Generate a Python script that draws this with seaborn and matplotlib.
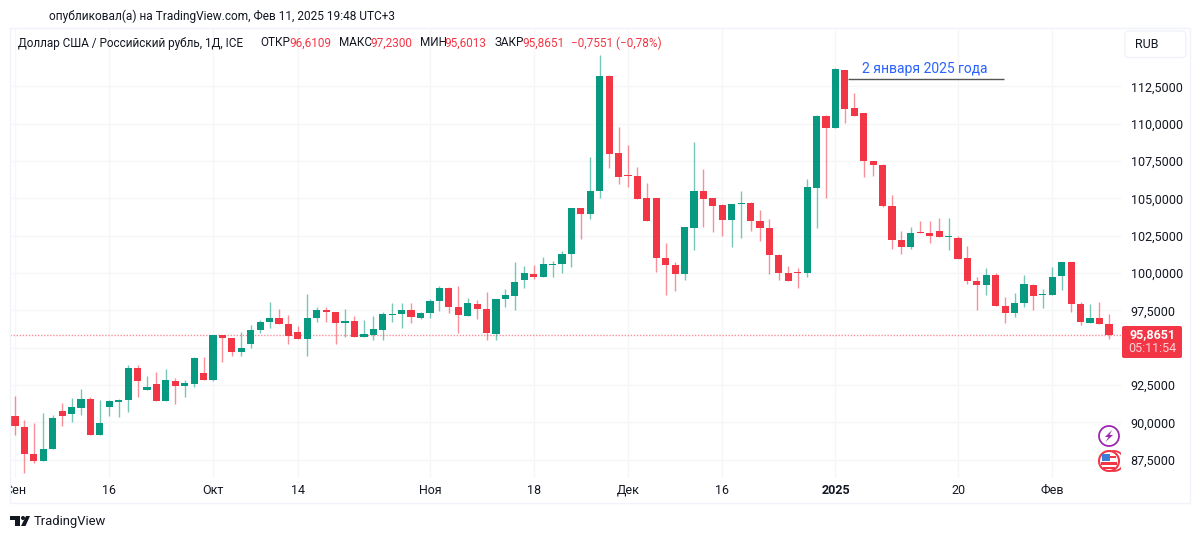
import matplotlib
matplotlib.use('Agg')
import matplotlib.pyplot as plt
import matplotlib.transforms as mtransforms
from matplotlib.patches import Circle, FancyBboxPatch, Polygon, Rectangle
import numpy as np
import pandas as pd
import seaborn as sns

# USD/RUB daily candles
opens = [90.42, 89.69, 87.88, 87.43, 88.21, 90.74, 90.56, 90.98, 91.58, 89.17,
         91.05, 91.36, 91.47, 93.62, 92.14, 92.54, 91.41, 92.79, 92.45, 92.59,
         93.28, 92.81, 95.83, 95.63, 94.73, 95.22, 96.18, 96.72, 96.99, 96.59,
         96.05, 95.58, 96.97, 97.50, 97.41, 96.65, 96.77, 95.69, 95.87, 96.21,
         97.19, 97.23, 97.50, 96.97, 97.35, 98.13, 99.02, 97.75, 97.14, 97.95,
         97.57, 95.94, 98.26, 98.48, 99.56, 99.94, 99.73, 100.56, 100.60, 101.30,
         104.36, 103.98, 105.47, 113.20, 108.06, 106.54, 106.52, 105.00, 105.00, 100.98,
         100.54, 99.96, 103.04, 105.49, 105.00, 104.56, 103.57, 104.60, 104.69, 103.51,
         103.02, 101.21, 100.02, 100.05, 99.98, 105.70, 110.52, 109.74, 113.60, 111.05,
         110.74, 107.48, 107.26, 104.49, 102.23, 101.72, 102.75, 102.68, 102.79, 102.39,
         102.37, 100.98, 99.49, 99.22, 99.85, 97.77, 97.32, 97.97, 99.22, 98.53,
         98.55, 99.78, 100.72, 97.95, 96.68, 96.99, 96.6109]
highs = [91.76, 90.16, 89.95, 90.62, 90.47, 91.27, 91.63, 92.23, 91.70, 91.50,
         91.50, 91.58, 93.84, 93.84, 93.10, 93.39, 93.55, 92.99, 92.83, 94.35,
         94.35, 95.85, 95.85, 95.63, 96.03, 96.52, 96.83, 98.06, 97.59, 97.19,
         96.45, 98.60, 97.70, 97.70, 97.41, 97.57, 97.12, 96.85, 97.14, 97.37,
         97.99, 97.99, 97.99, 97.39, 98.26, 99.11, 99.04, 99.11, 98.33, 98.19,
         98.73, 98.26, 98.91, 100.76, 100.45, 100.54, 101.07, 100.81, 101.48, 104.33,
         104.36, 107.79, 114.60, 113.24, 109.78, 108.57, 107.12, 106.03, 105.02, 101.99,
         100.72, 103.06, 108.75, 106.99, 105.05, 104.60, 104.62, 105.47, 104.74, 104.22,
         103.60, 101.27, 100.45, 100.31, 106.28, 110.58, 110.56, 113.71, 113.60, 112.06,
         110.74, 107.50, 107.28, 105.23, 102.79, 103.06, 103.51, 103.51, 103.66, 103.66,
         102.50, 101.83, 99.71, 100.36, 100.00, 98.39, 98.68, 99.87, 99.26, 98.93,
         100.40, 100.72, 100.72, 98.04, 97.90, 98.04, 97.23]
lows = [89.15, 86.63, 87.25, 87.43, 88.21, 89.75, 90.00, 90.49, 89.17, 89.17,
        90.42, 90.38, 90.69, 91.67, 92.14, 91.43, 91.41, 91.23, 91.72, 92.37,
        92.81, 92.75, 94.04, 94.44, 94.46, 95.00, 96.00, 96.34, 96.56, 95.25,
        95.58, 94.47, 96.74, 96.74, 95.25, 95.74, 95.72, 95.69, 95.51, 95.51,
        96.70, 96.30, 96.68, 96.94, 97.01, 97.46, 97.32, 96.01, 97.14, 96.92,
        95.51, 95.51, 97.73, 97.55, 99.00, 99.60, 99.73, 99.73, 100.02, 100.43,
        102.30, 103.62, 105.05, 107.03, 105.98, 105.78, 104.98, 103.48, 100.05, 98.55,
        98.82, 99.53, 101.54, 103.06, 102.75, 102.50, 101.77, 102.37, 102.82, 102.12,
        99.91, 99.53, 99.47, 99.02, 99.76, 103.04, 105.05, 109.74, 110.03, 110.50,
        106.45, 106.50, 104.44, 101.61, 101.27, 101.63, 102.68, 101.99, 102.39, 101.54,
        100.94, 99.29, 97.52, 98.55, 97.77, 96.65, 97.05, 97.75, 97.52, 97.66,
        98.55, 98.86, 97.39, 96.52, 96.68, 96.61, 95.6013]
closes = [89.75, 87.86, 87.43, 88.24, 90.31, 90.42, 91.00, 91.58, 89.17, 89.95,
          91.41, 91.50, 93.62, 92.79, 92.37, 91.43, 92.81, 92.45, 92.63, 94.29,
          92.81, 95.85, 95.63, 94.73, 94.98, 96.16, 96.72, 96.99, 96.56, 95.80,
          95.58, 97.01, 97.50, 97.39, 96.65, 96.79, 95.72, 95.89, 96.23, 97.28,
          97.26, 97.50, 97.03, 97.35, 98.13, 98.98, 97.75, 97.21, 97.99, 97.57,
          95.98, 98.26, 98.51, 99.40, 99.98, 99.73, 100.58, 100.63, 101.30, 104.33,
          103.98, 105.49, 113.17, 107.99, 106.45, 106.48, 104.98, 103.48, 100.98, 100.54,
          99.96, 103.06, 105.49, 104.98, 104.49, 103.57, 104.60, 104.69, 103.48, 102.99,
          101.19, 100.02, 99.47, 100.00, 105.76, 110.52, 109.74, 113.69, 110.99, 110.50,
          107.53, 107.24, 104.49, 102.21, 101.72, 102.68, 102.68, 102.50, 102.39, 102.50,
          100.94, 99.47, 99.22, 99.89, 97.79, 97.32, 97.99, 99.26, 98.46, 98.60,
          99.71, 100.72, 97.95, 96.74, 96.99, 96.61, 95.8651]

time_ticks = [0, 10, 21, 30, 44, 55, 65, 75, 87, 100, 110]
time_labels = ['Сен', '16', 'Окт', '14', 'Ноя', '18', 'Дек', '16', '2025', '20', 'Фев']
price_ticks = [87.5, 90, 92.5, 95, 97.5, 100, 102.5, 105, 107.5, 110, 112.5]
last_price = 95.8651

UP = '#089981'
DOWN = '#F23645'
GRID = '#F5F6F8'
TEXT = '#131722'

sns.set_theme(style='white')
plt.rcParams['font.family'] = ['Roboto', 'DejaVu Sans']

df = pd.DataFrame({'i': range(len(opens)), 'open': opens, 'high': highs, 'low': lows, 'close': closes})
df['body'] = (df['close'] - df['open']).abs()
df['base'] = df[['open', 'close']].min(axis=1)
df['up'] = df['close'] >= df['open']

fig = plt.figure(figsize=(12, 5.39), dpi=100)
ax = fig.add_axes([10 / 1200, 1 - 478 / 539, 1111 / 1200, 450 / 539])

ax.vlines(df['i'][df['up']], df['low'][df['up']], df['high'][df['up']], color=UP, lw=1, alpha=0.55, zorder=3)
ax.vlines(df['i'][~df['up']], df['low'][~df['up']], df['high'][~df['up']], color=DOWN, lw=1, alpha=0.55, zorder=3)
for flag, colour in [(True, UP), (False, DOWN)]:
    part = df[df['up'] == flag]
    sns.barplot(data=part, x='i', y='body', bottom=part['base'].values, native_scale=True,
                color=colour, saturation=1, width=0.76, gap=0, errorbar=None,
                linewidth=0, ax=ax, zorder=4)

ax.axhline(last_price, color=DOWN, lw=1, ls=(0, (1, 1.2)), alpha=0.55, zorder=2)
ax.hlines(113.0, 88.3, 104.9, color='#555555', lw=1, zorder=5)
ax.text(96.45, 113.65, '2 января 2025 года', color='#2962FF', fontsize=10, ha='center', va='center', zorder=5)

ax.set_xlim(-0.53, 117.28)
ax.set_ylim(86.27, 116.41)
ax.set_xlabel('')
ax.set_ylabel('')
ax.set_xticks(time_ticks)
ax.set_xticklabels(time_labels)
ax.set_yticks(price_ticks)
ax.set_yticklabels([f'{p:.4f}'.replace('.', ',') if p != 95 else '' for p in price_ticks])
ax.yaxis.tick_right()
ax.grid(True, color=GRID, lw=1)
ax.set_axisbelow(True)
ax.tick_params(axis='x', length=0, pad=4, labelsize=9, labelcolor=TEXT)
ax.tick_params(axis='y', length=0, pad=7, labelsize=9, labelcolor=TEXT)
for spine in ax.spines.values():
    spine.set_visible(False)

# "Сен" is cut by the left edge of the chart
ax.get_xticklabels()[0].set_clip_box(mtransforms.Bbox([[10, 0], [1200, 539]]))
ax.get_xticklabels()[0].set_clip_on(True)
ax.get_xticklabels()[8].set_fontweight('bold')

# chrome on top, in pixel coordinates
over = fig.add_axes([0, 0, 1, 1], facecolor='none')
over.set_xlim(0, 1200)
over.set_ylim(539, 0)
over.axis('off')
over.add_patch(Rectangle((10, 27.5), 1180, 475.5, fill=False, ec='#F0F3FA', lw=1))

over.text(49, 16, 'опубликовал(а) на TradingView.com, Фев 11, 2025 19:48 UTC+3', fontsize=8.6, color=TEXT, va='center')
header = [(18, 'Доллар США / Российский рубль, 1Д, ICE', TEXT), (260, 'ОТКР', TEXT), (289.5, '96,6109', DOWN),
          (339, 'МАКС', TEXT), (370.5, '97,2300', DOWN), (420, 'МИН', TEXT), (444.5, '95,6013', DOWN),
          (494.5, 'ЗАКР', TEXT), (522.5, '95,8651', DOWN), (571, '−0,7551 (−0,78%)', DOWN)]
for hx, label, colour in header:
    over.text(hx, 43, label, fontsize=8.5, color=colour, va='center')

over.add_patch(FancyBboxPatch((1125, 31), 61, 26.5, boxstyle='round,pad=0,rounding_size=4', fc='white', ec='#F0F3FA', lw=1))
over.text(1135, 44, 'RUB', fontsize=9, color=TEXT, va='center')

over.add_patch(FancyBboxPatch((1122, 326), 60, 32, boxstyle='round,pad=0,rounding_size=2', fc=DOWN, ec='none'))
over.text(1152, 335, '95,8651', fontsize=9, color='white', ha='center', va='center', fontweight='bold')
over.text(1152, 349, '05:11:54', fontsize=9, color='#FBD0D4', ha='center', va='center')

# event badges
over.add_patch(Circle((1109, 436), 10, fc='white', ec='#9C27B0', lw=1.3))
over.add_patch(Polygon([(1112, 430), (1105, 437), (1108.5, 437), (1105.5, 442), (1113, 435), (1109.5, 435)], fc='#9C27B0', ec='none'))
back = Circle((1114, 461), 10, fc='white', ec=DOWN, lw=1.3, zorder=3)
over.add_patch(back)
back.set_clip_path(Rectangle((1100, 445), 21, 35, transform=over.transData))
over.add_patch(Circle((1109, 461), 10, fc='white', ec=DOWN, lw=1.5, zorder=4))
over.add_patch(Rectangle((1102, 456), 14, 2, fc=DOWN, ec='none', zorder=5))
over.add_patch(Rectangle((1101, 462), 16, 3, fc=DOWN, ec='none', zorder=5))
over.add_patch(Rectangle((1103, 467), 12, 1.5, fc=DOWN, ec='none', zorder=5))
over.add_patch(Rectangle((1102, 454), 8, 7, fc='#3D7DD8', ec='none', zorder=6))

# TradingView logo
over.add_patch(Polygon([(10, 516), (20, 516), (20, 526), (15, 526), (15, 520), (10, 520)], fc=TEXT, ec='none'))
over.add_patch(Circle((23, 518), 2, fc=TEXT, ec='none'))
over.add_patch(Polygon([(26, 516), (30, 516), (25.5, 526), (21, 526)], fc=TEXT, ec='none'))
over.text(34, 521.5, 'TradingView', fontsize=9.4, color=TEXT, va='center')

fig.savefig('out.png', dpi=100, facecolor='white')
